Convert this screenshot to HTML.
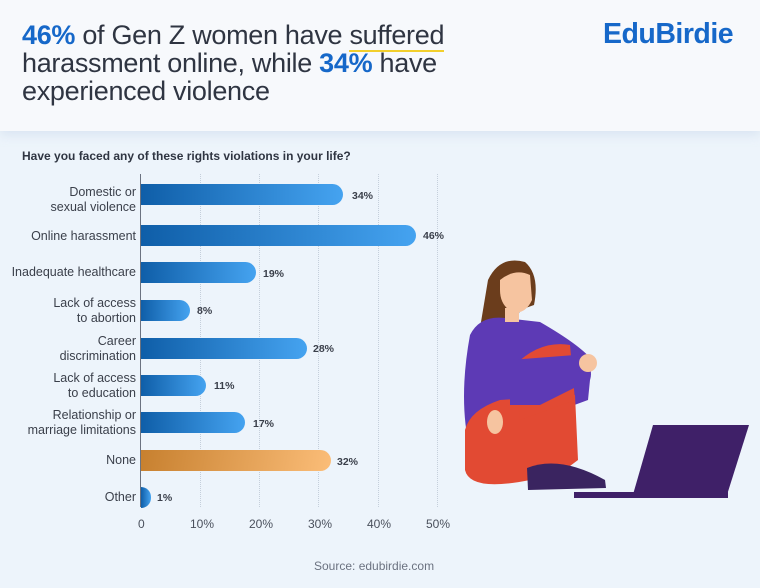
<!DOCTYPE html>
<html><head><meta charset="utf-8"><style>
body{margin:0;width:760px;height:588px;overflow:hidden;background:#edf4fb;font-family:"Liberation Sans",sans-serif;position:relative}
.hdr{position:absolute;left:0;top:0;width:760px;height:131px;background:#f7f9fc;box-shadow:0 4px 10px rgba(180,200,225,.35)}
.title{position:absolute;left:22px;top:21px;font-size:27px;line-height:28px;color:#2f3542;letter-spacing:-0.3px}
.title b{color:#1668c9}
.logo{position:absolute;left:603px;top:18px;font-size:28.5px;font-weight:bold;color:#1668c9;letter-spacing:-0.5px}
.q{position:absolute;left:22px;top:149px;font-size:12px;font-weight:bold;color:#2f3542}
.lab{position:absolute;right:624px;font-size:12.5px;color:#3a3f4a;text-align:right;line-height:15px}
.bar{position:absolute;left:141px;height:21px;border-radius:0 11px 11px 0;background:linear-gradient(90deg,#0f5ea8,#45a3f0)}
.val{position:absolute;font-size:10.5px;font-weight:bold;color:#3a3f4a}
.tick{position:absolute;top:517px;font-size:12px;color:#4a505c}
.grid{position:absolute;top:174px;height:333px;border-left:1px dotted #c5cfdb}
</style></head><body>
<div class="hdr"></div>
<div class="title"><b>46%</b> of Gen Z women have <span style="border-bottom:2px solid #f2cf2c">suffered</span><br>harassment online, while <b>34%</b> have<br>experienced violence</div>
<div class="logo">EduBirdie</div>
<div class="q">Have you faced any of these rights violations in your life?</div>
<div class="grid" style="left:200px"></div><div class="grid" style="left:259px"></div><div class="grid" style="left:318px"></div><div class="grid" style="left:378px"></div><div class="grid" style="left:437px"></div>
<div style="position:absolute;left:140px;top:174px;width:1px;height:333px;background:#6b7280"></div>

<div class="lab" style="top:185px">Domestic or<br>sexual violence</div>
<div class="bar" style="top:184px;width:202px"></div><div class="val" style="left:352px;top:190px">34%</div>
<div class="lab" style="top:229px">Online harassment</div>
<div class="bar" style="top:225px;width:275px"></div><div class="val" style="left:423px;top:230px">46%</div>
<div class="lab" style="top:265px">Inadequate healthcare</div>
<div class="bar" style="top:262px;width:115px"></div><div class="val" style="left:263px;top:268px">19%</div>
<div class="lab" style="top:296px">Lack of access<br>to abortion</div>
<div class="bar" style="top:300px;width:49px"></div><div class="val" style="left:197px;top:305px">8%</div>
<div class="lab" style="top:334px">Career<br>discrimination</div>
<div class="bar" style="top:338px;width:166px"></div><div class="val" style="left:313px;top:343px">28%</div>
<div class="lab" style="top:371px">Lack of access<br>to education</div>
<div class="bar" style="top:375px;width:65px"></div><div class="val" style="left:214px;top:380px">11%</div>
<div class="lab" style="top:408px">Relationship or<br>marriage limitations</div>
<div class="bar" style="top:412px;width:104px"></div><div class="val" style="left:253px;top:418px">17%</div>
<div class="lab" style="top:453px">None</div>
<div class="bar" style="top:450px;width:190px;background:linear-gradient(100deg,#c7802f,#fbbd78)"></div><div class="val" style="left:337px;top:456px">32%</div>
<div class="lab" style="top:490px">Other</div>
<div class="bar" style="top:487px;width:10px"></div><div class="val" style="left:157px;top:492px">1%</div>

<div class="tick" style="left:138px">0</div><div class="tick" style="left:190px">10%</div><div class="tick" style="left:249px">20%</div><div class="tick" style="left:308px">30%</div><div class="tick" style="left:367px">40%</div><div class="tick" style="left:426px">50%</div>
<div style="position:absolute;left:314px;top:559px;font-size:12px;color:#6b7280">Source: edubirdie.com</div>

<svg style="position:absolute;left:0;top:0" width="760" height="588">
<path d="M488 280 Q500 255 525 262 Q540 275 534 305 L520 310 L505 360 L478 340 Z" fill="#6b3d1c"/>
<path d="M470 335 Q480 315 505 318 L540 322 Q580 345 592 360 L588 400 L520 425 L500 440 L470 450 Q458 400 470 335Z" fill="#5d3ab5"/>
<path d="M465 430 Q470 410 500 400 L575 395 L578 460 L558 475 L530 480 Q470 492 465 470 Z" fill="#e24a33"/>
<path d="M515 365 Q540 340 570 345 L575 400 L520 420 Z" fill="#e24a33"/>
<path d="M510 360 L575 355 Q595 365 590 380 L540 405 L510 405 Z" fill="#5d3ab5"/>
<circle cx="588" cy="363" r="9" fill="#f6c4a0"/>
<ellipse cx="495" cy="422" rx="8" ry="12" fill="#f6c4a0"/>
<path d="M500 280 Q515 268 530 275 L532 300 Q525 315 512 312 Q500 305 500 290 Z" fill="#f6c4a0"/>
<rect x="505" y="308" width="14" height="14" fill="#f6c4a0"/>
<path d="M527 468 Q560 455 605 480 L606 488 L528 490 Z" fill="#3a2460"/>
<path d="M653 425 L749 425 L726 498 L632 498 Z" fill="#3f2068"/>
<rect x="574" y="492" width="154" height="6" fill="#3f2068"/>
</svg>
</body></html>
